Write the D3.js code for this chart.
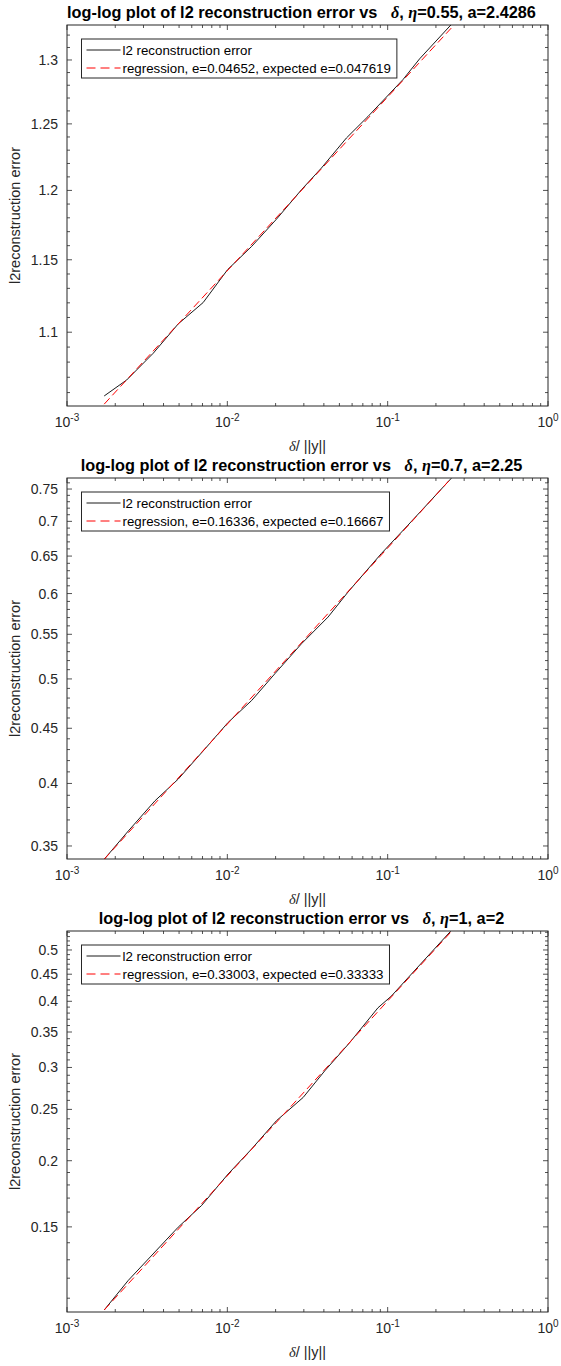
<!DOCTYPE html>
<html>
<head>
<meta charset="utf-8">
<script src="https://d3js.org/d3.v7.min.js"></script>
<style>
  body { margin: 0; background: #fff; }
  svg { display: block; font-family: "Liberation Sans", Arial, Helvetica, sans-serif; }
  .tick-label { font-size: 14px; fill: #262626; }
  .title { font-size: 16.3px; font-weight: bold; fill: #000; }
  .greek { font-family: "Liberation Serif", "Times New Roman", serif; font-style: italic; font-weight: bold; }
  .axis-label { font-size: 14.5px; fill: #262626; }
  .legend-text { font-size: 13.3px; fill: #000; }
</style>
</head>
<body>
<div id="chart"></div>
<script>
// x values (delta / ||y||) read per panel
const deltaRatio1 = [0.001706, 0.002355, 0.003451, 0.004937, 0.007066, 0.01003, 0.01416, 0.02025, 0.0290, 0.03863, 0.05529, 0.07539, 0.1245, 0.1582, 0.2493];
const error1      = [1.0578, 1.0682, 1.0859, 1.1056, 1.1202, 1.1430, 1.1594, 1.1790, 1.2005, 1.2166, 1.2392, 1.2557, 1.2844, 1.3009, 1.3286];

const deltaRatio2 = [0.001706, 0.002413, 0.003535, 0.004937, 0.007241, 0.01012, 0.01416, 0.01977, 0.0290, 0.04246, 0.05656, 0.09134, 0.1338, 0.2493];
const error2      = [0.3402, 0.3614, 0.3854, 0.4037, 0.4305, 0.4557, 0.4774, 0.5055, 0.5390, 0.5706, 0.6019, 0.6535, 0.6943, 0.7674];

const deltaRatio3 = [0.001706, 0.002413, 0.003535, 0.004937, 0.006906, 0.01012, 0.01416, 0.02025, 0.0297, 0.04051, 0.05797, 0.08701, 0.1054, 0.1338, 0.2468];
const error3      = [0.1045, 0.1189, 0.1345, 0.1498, 0.1646, 0.1888, 0.2104, 0.2380, 0.2633, 0.2956, 0.3342, 0.3889, 0.4091, 0.4429, 0.5423];

// regression lines (end points)
const regX  = [0.001706, 0.2493];
const regY1 = [1.0525, 1.3257];
const regY2 = [0.3402, 0.7676];
const regY3 = [0.1045, 0.5415];

// axis limits
const xLimits = [1e-3, 1];
const yLimits1 = [1.0513, 1.3282];
const yLimits2 = [0.3404, 0.7679];
const yLimits3 = [0.1036, 0.5430];

// y tick labels
const yTicks1 = [1.1, 1.15, 1.2, 1.25, 1.3];
const yTicks2 = [0.35, 0.4, 0.45, 0.5, 0.55, 0.6, 0.65, 0.7, 0.75];
const yTicks3 = [0.15, 0.2, 0.25, 0.3, 0.35, 0.4, 0.45, 0.5];

// title parameters and legend texts
const titleParams = [", \u03B7=0.55, a=2.4286", ", \u03B7=0.7, a=2.25", ", \u03B7=1, a=2"];
const legendData = "l2 reconstruction error";
const legendReg = [
  "regression, e=0.04652, expected e=0.047619",
  "regression, e=0.16336, expected e=0.16667",
  "regression, e=0.33003, expected e=0.33333"
];

const W = 561, H = 1366;
const left = 67, right = 548;
const panelTops = [25, 478, 931];
const panelH = 381;

const svg = d3.select("#chart").append("svg")
  .attr("width", W).attr("height", H);

const panels = [
  { xs: deltaRatio1, ys: error1, reg: regY1, ylim: yLimits1, yticks: yTicks1 },
  { xs: deltaRatio2, ys: error2, reg: regY2, ylim: yLimits2, yticks: yTicks2 },
  { xs: deltaRatio3, ys: error3, reg: regY3, ylim: yLimits3, yticks: yTicks3 }
];

panels.forEach((p, i) => drawPanel(p, i));

function drawPanel(p, i) {
  const top = panelTops[i], bottom = top + panelH;
  const x = d3.scaleLog().domain(xLimits).range([left, right]);
  const y = d3.scaleLog().domain(p.ylim).range([bottom, top]);
  const g = svg.append("g");

  // clip
  const clipId = "clip" + i;
  g.append("clipPath").attr("id", clipId)
    .append("rect").attr("x", left).attr("y", top)
    .attr("width", right - left).attr("height", panelH);

  // x ticks (major + minor) on top and bottom
  const xt = x.ticks();
  xt.forEach(t => {
    const major = Math.abs(Math.log10(t) - Math.round(Math.log10(t))) < 1e-9;
    const len = major ? 5 : 3;
    const px = x(t);
    g.append("line").attr("x1", px).attr("x2", px).attr("y1", bottom).attr("y2", bottom - len)
      .attr("stroke", "#262626").attr("stroke-width", 0.8);
    g.append("line").attr("x1", px).attr("x2", px).attr("y1", top).attr("y2", top + len)
      .attr("stroke", "#262626").attr("stroke-width", 0.8);
    if (major) {
      const e = Math.round(Math.log10(t));
      const lab = g.append("text").attr("class", "tick-label")
        .attr("x", px).attr("y", bottom + 21).attr("text-anchor", "middle");
      lab.append("tspan").text("10");
      lab.append("tspan").attr("dy", -6).attr("font-size", "10px").text(e);
    }
  });

  // y minor ticks every 0.01
  const yMinor = d3.range(Math.ceil(p.ylim[0] * 100), Math.floor(p.ylim[1] * 100) + 1).map(v => v / 100);
  yMinor.forEach(t => {
    const major = p.yticks.some(m => Math.abs(m - t) < 1e-9);
    if (major) return;
    const py = y(t);
    g.append("line").attr("x1", left).attr("x2", left + 3).attr("y1", py).attr("y2", py)
      .attr("stroke", "#262626").attr("stroke-width", 0.8);
    g.append("line").attr("x1", right).attr("x2", right - 3).attr("y1", py).attr("y2", py)
      .attr("stroke", "#262626").attr("stroke-width", 0.8);
  });
  p.yticks.forEach(t => {
    const py = y(t);
    g.append("line").attr("x1", left).attr("x2", left + 5).attr("y1", py).attr("y2", py)
      .attr("stroke", "#262626").attr("stroke-width", 0.8);
    g.append("line").attr("x1", right).attr("x2", right - 5).attr("y1", py).attr("y2", py)
      .attr("stroke", "#262626").attr("stroke-width", 0.8);
    g.append("text").attr("class", "tick-label")
      .attr("x", left - 9).attr("y", py + 5).attr("text-anchor", "end")
      .text(String(t));
  });

  // box
  g.append("rect").attr("x", left).attr("y", top)
    .attr("width", right - left).attr("height", panelH)
    .attr("fill", "none").attr("stroke", "#262626").attr("stroke-width", 1);

  // data line
  const line = d3.line().x(d => x(d[0])).y(d => y(d[1]));
  g.append("path")
    .datum(p.xs.map((v, k) => [v, p.ys[k]]))
    .attr("clip-path", `url(#${clipId})`)
    .attr("d", line)
    .attr("fill", "none").attr("stroke", "#000").attr("stroke-width", 0.9);

  // regression line
  g.append("path")
    .datum(regX.map((v, k) => [v, p.reg[k]]))
    .attr("clip-path", `url(#${clipId})`)
    .attr("d", line)
    .attr("fill", "none").attr("stroke", "#ff0000").attr("stroke-width", 1)
    .attr("stroke-dasharray", "8,4");

  // title
  const title = g.append("text").attr("class", "title")
    .attr("x", (left + right) / 2 - 6).attr("y", top - 7).attr("text-anchor", "middle")
    .attr("xml:space", "preserve");
  title.append("tspan").text("log-log plot of l2 reconstruction error vs   ");
  title.append("tspan").attr("class", "greek").text("\u03B4");
  const parts = titleParams[i].split("\u03B7");
  title.append("tspan").text(parts[0]);
  title.append("tspan").attr("class", "greek").text("\u03B7");
  title.append("tspan").text(parts[1]);

  // x label
  const xl = g.append("text").attr("class", "axis-label")
    .attr("x", (left + right) / 2).attr("y", bottom + 45).attr("text-anchor", "middle")
    .attr("xml:space", "preserve");
  xl.append("tspan").attr("font-family", "'Liberation Serif', 'Times New Roman', serif")
    .attr("font-style", "italic").text("\u03B4");
  xl.append("tspan").text("/ ||y||");

  // y label
  g.append("text").attr("class", "axis-label")
    .attr("transform", `translate(20,${top + panelH / 2}) rotate(-90)`)
    .attr("text-anchor", "middle")
    .text("l2reconstruction error");

  // legend
  const lx = 81.5, ly = top + 14;
  const lg = g.append("g");
  const box = lg.append("rect").attr("x", lx).attr("y", ly).attr("height", 39)
    .attr("fill", "#fff").attr("stroke", "#262626").attr("stroke-width", 1);
  lg.append("line").attr("x1", lx + 5).attr("x2", lx + 39).attr("y1", ly + 11).attr("y2", ly + 11)
    .attr("stroke", "#000").attr("stroke-width", 0.9);
  lg.append("line").attr("x1", lx + 5).attr("x2", lx + 39).attr("y1", ly + 29).attr("y2", ly + 29)
    .attr("stroke", "#ff0000").attr("stroke-width", 1).attr("stroke-dasharray", "9,5");
  lg.append("text").attr("class", "legend-text").attr("x", lx + 41).attr("y", ly + 15.5).text(legendData);
  const t2 = lg.append("text").attr("class", "legend-text").attr("x", lx + 41).attr("y", ly + 33.5).text(legendReg[i]);
  const w = t2.node().getComputedTextLength();
  box.attr("width", 41 + w + 6);
}
</script>
</body>
</html>
